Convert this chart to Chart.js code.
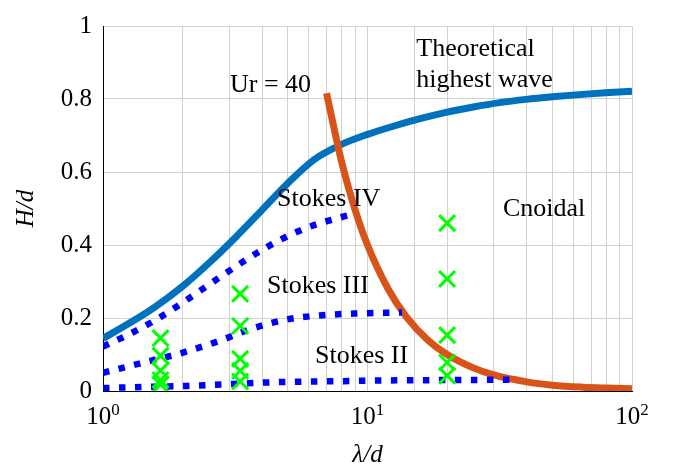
<!DOCTYPE html>
<html>
<head>
<meta charset="utf-8">
<script src="https://cdn.jsdelivr.net/npm/chart.js@4"></script>
<style>
  body { margin: 0; background: #fff; }
  #wrap { width: 675px; height: 470px; }
</style>
</head>
<body>
<div id="wrap"><canvas id="waveChart"></canvas></div>
<script>
// theoretical highest wave
const highestLambda = [1, 1.26, 1.585, 2, 2.51, 3.16, 3.98, 5.01, 6.31, 7.94, 10, 12.6, 15.8, 20, 25.1, 31.6, 39.8, 50.1, 63.1, 79.4, 100];
const highestH = [0.144, 0.186, 0.232, 0.287, 0.350, 0.420, 0.495, 0.570, 0.635, 0.675, 0.703, 0.726, 0.746, 0.764, 0.778, 0.790, 0.799, 0.806, 0.812, 0.817, 0.821];

// Ursell number Ur = 40
const urLambda = [7, 8, 9, 10, 12, 14, 17, 20, 25, 30, 40, 50, 65, 80, 100];
const urH = [0.816, 0.625, 0.494, 0.40, 0.278, 0.204, 0.138, 0.10, 0.064, 0.044, 0.025, 0.016, 0.0105, 0.008, 0.006];

// Stokes limits
const stokes4Lambda = [1, 1.26, 1.585, 2, 2.51, 3.16, 3.98, 5.01, 6.31, 7.94, 9];
const stokes4H = [0.122, 0.156, 0.195, 0.242, 0.291, 0.340, 0.386, 0.425, 0.455, 0.476, 0.486];
const stokes3Lambda = [1, 1.5, 1.98, 2.77, 3.7, 4.95, 6.6, 8.84, 13.5];
const stokes3H = [0.05, 0.082, 0.104, 0.138, 0.172, 0.196, 0.207, 0.212, 0.215];
const stokes2Lambda = [1, 1.4, 2.1, 2.8, 3.7, 5, 8, 12, 20, 35];
const stokes2H = [0.008, 0.011, 0.014, 0.018, 0.022, 0.025, 0.027, 0.029, 0.030, 0.031];

// measured cases
const caseLambda = [1.65, 1.65, 1.65, 1.65, 1.65, 3.3, 3.3, 3.3, 3.3, 3.3, 20, 20, 20, 20, 20];
const caseH = [0.145, 0.097, 0.056, 0.03, 0.018, 0.266, 0.178, 0.088, 0.055, 0.026, 0.46, 0.307, 0.153, 0.078, 0.042];

const xTickValues = [1, 10, 100];
const xTickExponents = [0, 1, 2];

const regionLabels = [
    { text: 'Theoretical', x: 15.3, y: 0.917 },
    { text: 'highest wave', x: 15.3, y: 0.832 },
    { text: 'Ur = 40', x: 3.02, y: 0.818 },
    { text: 'Stokes IV', x: 4.55, y: 0.506 },
    { text: 'Stokes III', x: 4.17, y: 0.268 },
    { text: 'Stokes II', x: 6.33, y: 0.077 },
    { text: 'Cnoidal', x: 32.5, y: 0.479 }
];

const SERIF = '"Liberation Serif", "Times New Roman", serif';

function puntos(xs, ys) {
    return xs.map((x, i) => ({ x: x, y: ys[i] }));
}

function curvaPunteada(xs, ys) {
    return {
        type: 'line',
        data: puntos(xs, ys),
        borderColor: '#0000ff',
        borderWidth: 6.5,
        borderDash: [6.5, 9.5],
        borderCapStyle: 'butt',
        pointRadius: 0,
        cubicInterpolationMode: 'monotone',
        order: 1
    };
}

// "10" with a raised exponent under each decade
const etiquetasDecadas = {
    id: 'etiquetasDecadas',
    afterDraw(chart) {
        const ctx = chart.ctx;
        const xs = chart.scales.x;
        ctx.save();
        ctx.fillStyle = '#000';
        ctx.textAlign = 'left';
        ctx.textBaseline = 'alphabetic';
        xTickValues.forEach((v, i) => {
            const exp = String(xTickExponents[i]);
            ctx.font = '25px ' + SERIF;
            const wb = ctx.measureText('10').width;
            ctx.font = '17px ' + SERIF;
            const we = ctx.measureText(exp).width;
            const left = xs.getPixelForValue(v) - (wb + we) / 2;
            ctx.font = '25px ' + SERIF;
            ctx.fillText('10', left, xs.top + 33);
            ctx.font = '17px ' + SERIF;
            ctx.fillText(exp, left + wb, xs.top + 24);
        });
        ctx.restore();
    }
};

// region names placed in data coordinates
const nombresRegiones = {
    id: 'nombresRegiones',
    afterDatasetsDraw(chart) {
        const ctx = chart.ctx;
        const xs = chart.scales.x;
        const ys = chart.scales.y;
        ctx.save();
        ctx.fillStyle = '#000';
        ctx.font = '26px ' + SERIF;
        ctx.textAlign = 'left';
        ctx.textBaseline = 'alphabetic';
        regionLabels.forEach(l => {
            ctx.fillText(l.text, xs.getPixelForValue(l.x), ys.getPixelForValue(l.y));
        });
        ctx.restore();
    }
};

const ctx = document.getElementById('waveChart').getContext('2d');
new Chart(ctx, {
    type: 'scatter',
    data: {
        datasets: [
            {
                type: 'scatter',
                data: puntos(caseLambda, caseH),
                pointStyle: 'crossRot',
                pointRadius: 11.3,
                borderColor: '#00ff00',
                backgroundColor: '#00ff00',
                borderWidth: 3,
                order: 0
            },
            curvaPunteada(stokes4Lambda, stokes4H),
            curvaPunteada(stokes3Lambda, stokes3H),
            curvaPunteada(stokes2Lambda, stokes2H),
            {
                type: 'line',
                data: puntos(urLambda, urH),
                borderColor: '#d95319',
                borderWidth: 7,
                pointRadius: 0,
                cubicInterpolationMode: 'monotone',
                order: 2
            },
            {
                type: 'line',
                data: puntos(highestLambda, highestH),
                borderColor: '#0072bd',
                borderWidth: 7,
                pointRadius: 0,
                cubicInterpolationMode: 'monotone',
                order: 3
            }
        ]
    },
    options: {
        responsive: true,
        maintainAspectRatio: false,
        animation: false,
        layout: {
            padding: { top: 14, right: 43, left: 0, bottom: 0 }
        },
        scales: {
            x: {
                type: 'logarithmic',
                min: 1,
                max: 100,
                grid: { color: '#d2d2d2', lineWidth: 1, drawTicks: false },
                border: { color: '#000', width: 1 },
                ticks: { callback: () => '' },
                title: {
                    display: true,
                    text: 'λ/d',
                    color: '#000',
                    font: { family: SERIF, size: 25, style: 'italic' },
                    padding: { top: 0, bottom: 0 }
                },
                afterFit(scale) { scale.height = 79; }
            },
            y: {
                min: 0,
                max: 1,
                ticks: {
                    stepSize: 0.2,
                    color: '#000',
                    padding: 11,
                    font: { family: SERIF, size: 25 },
                    callback: v => String(Math.round(v * 10) / 10)
                },
                grid: { color: '#d2d2d2', lineWidth: 1, drawTicks: false },
                border: { color: '#000', width: 1 },
                title: {
                    display: true,
                    text: 'H/d',
                    color: '#000',
                    font: { family: SERIF, size: 25, style: 'italic' },
                    padding: { top: 11, bottom: 0 }
                },
                afterFit(scale) { scale.width = 103; }
            }
        },
        plugins: {
            legend: { display: false },
            tooltip: { enabled: false }
        }
    },
    plugins: [nombresRegiones, etiquetasDecadas]
});
</script>
</body>
</html>
